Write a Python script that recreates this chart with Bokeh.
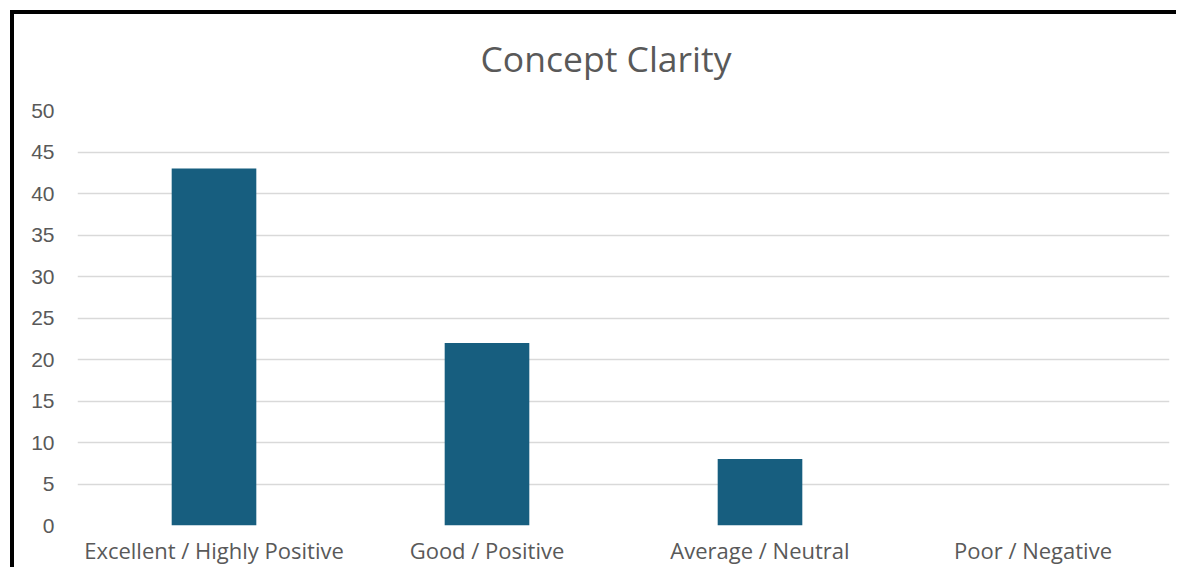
from bokeh.plotting import figure
from bokeh.models import Range1d, FixedTicker, Title
from bokeh.embed import file_html
from bokeh.resources import INLINE

categories = ["Excellent / Highly Positive", "Good / Positive", "Average / Neutral", "Poor / Negative"]
values = [43, 22, 8, 0]
y_ticks = [0, 5, 10, 15, 20, 25, 30, 35, 40, 45, 50]
title_text = "Concept Clarity"

TEXT = "#595959"
FONT = "Open Sans"

p = figure(x_range=categories, y_range=Range1d(0, 50), width=1176, height=567,
           output_backend="svg", toolbar_location=None,
           min_border_left=77, min_border_right=7, min_border_bottom=42, min_border_top=110)

# black left/top edge of the original picture, painted behind a transparent border area
p.styles = {
    "background-color": "white",
    "background-image": (
        "linear-gradient(to right, transparent 10px, #000 10px, #000 14px, transparent 14px), "
        "linear-gradient(to bottom, transparent 10px, #000 10px, #000 14px, transparent 14px)"
    ),
    "background-size": "100% 100%, 100% 100%",
    "background-position": "0px 10px, 10px 0px",
    "background-repeat": "no-repeat, no-repeat",
}
p.border_fill_alpha = 0

p.vbar(x=categories, top=values, width=0.31, fill_color="#175e7f", line_color=None)

p.title = Title(text=title_text, align="left", text_font=FONT, text_font_size="35.5px",
                text_color=TEXT, text_font_style="normal", standoff=57, offset=403)

p.outline_line_color = None
p.xgrid.grid_line_color = None
p.ygrid.grid_line_color = "#d9d9d9"
p.ygrid.grid_line_width = 1.5
p.yaxis.ticker = FixedTicker(ticks=y_ticks)
for ax in (p.xaxis, p.yaxis):
    ax.axis_line_color = None
    ax.major_tick_line_color = None
    ax.minor_tick_line_color = None
    ax.major_tick_out = 0
    ax.major_tick_in = 0
    ax.minor_tick_out = 0
    ax.major_label_text_color = TEXT
p.yaxis.major_label_text_font = "Liberation Sans"
p.yaxis.major_label_text_font_size = "21px"
p.xaxis.major_label_text_font = FONT
p.xaxis.major_label_text_font_size = "22px"
p.xaxis.major_label_standoff = 9
p.yaxis.major_label_standoff = 23
p.x_range.range_padding = 0
p.background_fill_color = "white"

open("out.html", "w").write(file_html(p, INLINE))
